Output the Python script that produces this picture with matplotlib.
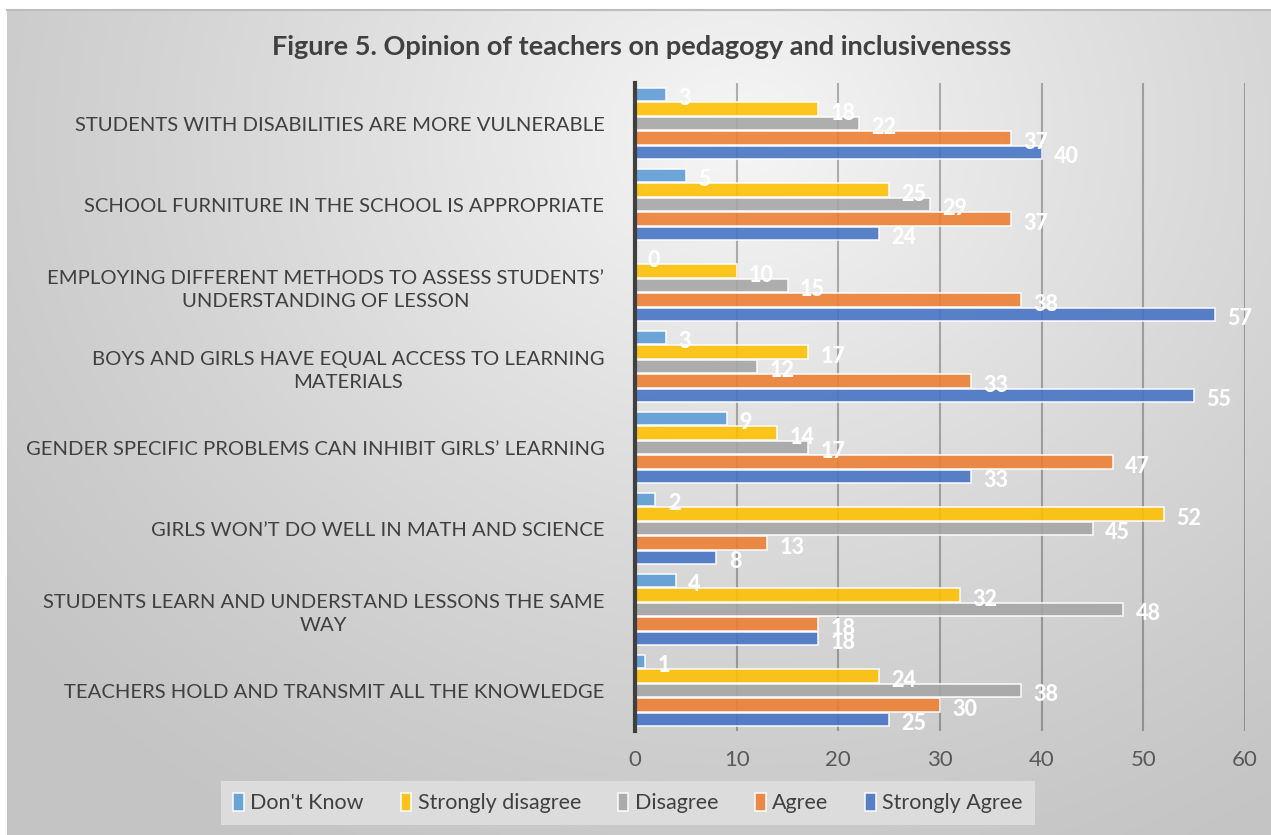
import numpy as np
import matplotlib.pyplot as plt

plt.rcParams['font.family'] = ['Lato', 'DejaVu Sans']

categories = [
    "STUDENTS WITH DISABILITIES ARE MORE VULNERABLE",
    "SCHOOL FURNITURE IN THE SCHOOL IS APPROPRIATE",
    "EMPLOYING DIFFERENT METHODS TO ASSESS STUDENTS\u2019\nUNDERSTANDING OF LESSON",
    "BOYS AND GIRLS HAVE EQUAL ACCESS TO LEARNING\nMATERIALS",
    "GENDER SPECIFIC PROBLEMS CAN INHIBIT GIRLS\u2019 LEARNING",
    "GIRLS WON\u2019T DO WELL IN MATH AND SCIENCE",
    "STUDENTS LEARN AND UNDERSTAND LESSONS THE SAME\nWAY",
    "TEACHERS HOLD AND TRANSMIT ALL THE KNOWLEDGE",
]
series = ["Don't Know", "Strongly disagree", "Disagree", "Agree", "Strongly Agree"]
dont_know = [3, 5, 0, 3, 9, 2, 4, 1]
strongly_disagree = [18, 25, 10, 17, 14, 52, 32, 24]
disagree = [22, 29, 15, 12, 17, 45, 48, 38]
agree = [37, 37, 38, 33, 47, 13, 18, 30]
strongly_agree = [40, 24, 57, 55, 33, 8, 18, 25]
values = [dont_know, strongly_disagree, disagree, agree, strongly_agree]
colors = ['#5B9BD5', '#FFC000', '#A5A5A5', '#ED7D31', '#4472C4']

W, H = 1271, 835
fig = plt.figure(figsize=(W / 100, H / 100), dpi=100, facecolor='white')

# soft radial gradient backdrop
bg = fig.add_axes([7 / W, 0, 1 - 7 / W, 1 - 10 / H], zorder=-10)
gx, gy = np.meshgrid(np.linspace(0, 1, 400), np.linspace(0, 1, 300))
r = np.sqrt(((gx - 0.58) / 0.75) ** 2 + ((gy - 0.15) / 1.0) ** 2)
r = np.clip(r, 0, 1)
lo, hi = 0.965, 0.77
shade = hi + (lo - hi) * (1 - r) ** 1.2
bg.imshow(np.dstack([shade] * 3), aspect='auto', extent=[0, 1, 1, 0])
bg.axis('off')
fig.add_artist(plt.Line2D([7 / W, 1], [1 - 10 / H] * 2, color='#BDBDBD', lw=1.5))

ax = fig.add_axes([635 / W, 1 - 731 / H, (1245 - 635) / W, (731 - 83) / H])
ax.set_facecolor('none')

n = len(categories)
centers = np.arange(n)[::-1].astype(float)
slot = 0.18
for k, (name, vals, c) in enumerate(zip(series, values, colors)):
    y = centers + (2 - k) * slot
    ax.barh(y, vals, height=slot * 0.93, color=c, alpha=0.88, label=name,
            edgecolor=(1, 1, 1, 0.55), linewidth=1.2, zorder=3)
    for yy, v in zip(y, vals):
        ax.annotate(str(v), (v, yy), xytext=(9, -3), textcoords='offset points',
                    ha='left', va='center', color='white', fontsize=15.5,
                    fontweight='black', zorder=5)

ax.set_xlim(0, 60)
ax.set_ylim(-0.5, n - 0.5)
ax.set_xticks(range(0, 61, 10))
ax.set_yticks(centers)
ax.set_yticklabels(categories, fontsize=14.6, color='#404040',
                   multialignment='center', linespacing=1.4)
ax.tick_params(axis='x', labelsize=16, labelcolor='#595959', length=0, pad=14)
ax.tick_params(axis='y', length=0, pad=22)
ax.grid(axis='x', color='black', alpha=0.28, lw=1.5, zorder=0)
for s in ['top', 'right', 'bottom']:
    ax.spines[s].set_visible(False)
ax.spines['left'].set_color('#404040')
ax.spines['left'].set_linewidth(3)
ax.spines['left'].set_zorder(4)

fig.text(642 / W, 1 - 47 / H, "Figure 5. Opinion of teachers on pedagogy and inclusivenesss",
         ha='center', va='center', fontsize=19.5, fontweight='bold', color='#404040')

leg = fig.legend(loc='center', bbox_to_anchor=(628 / W, 1 - 803 / H), ncol=5,
                 fontsize=15.5, frameon=True, fancybox=False, handlelength=0.5,
                 handleheight=0.9, handletextpad=0.3, columnspacing=1.7,
                 borderpad=0.55)
leg.get_frame().set_facecolor('#DCDCDC')
leg.get_frame().set_edgecolor('none')
leg.get_frame().set_alpha(1)
for t in leg.get_texts():
    t.set_color('#404040')

fig.savefig('out.png', dpi=100)
